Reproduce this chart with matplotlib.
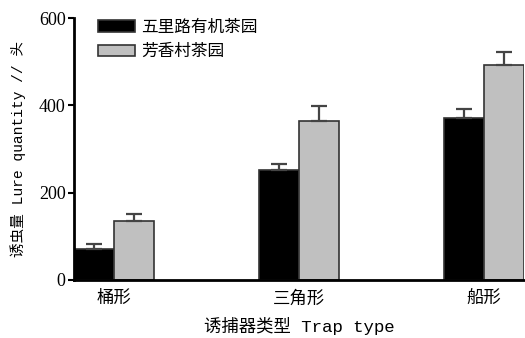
import matplotlib
matplotlib.use("Agg")
import matplotlib.pyplot as plt
import numpy as np

plt.rcParams['font.family'] = ['Liberation Serif', 'Noto Sans CJK SC']
label_font = ['Liberation Mono', 'Noto Sans CJK SC']

traps = ['桶形', '三角形', '船形']
series = ['五里路有机茶园', '芳香村茶园']
wulilu = [71, 252, 371]
wulilu_err = [11, 14, 21]
fangxiang = [135, 364, 492]
fangxiang_err = [16, 34, 30]

fig = plt.figure(figsize=(5.25, 3.38), dpi=100)
ax = fig.add_axes([0.141, 0.1716, 0.857, 0.775])

x = np.arange(len(traps))
w = 0.216
ekw = dict(ecolor='#444444', elinewidth=1.6, capsize=6, capthick=1.6)
ax.bar(x - w / 2, wulilu, w, color='black', edgecolor='#333333', linewidth=1.2,
       yerr=[np.zeros(3), wulilu_err], error_kw=ekw, label=series[0])
ax.bar(x + w / 2, fangxiang, w, color='#c0c0c0', edgecolor='#333333', linewidth=1.2,
       yerr=[np.zeros(3), fangxiang_err], error_kw=ekw, label=series[1])

ax.set_xlim(-w, 2 + w)
ax.set_ylim(0, 600)
ax.set_yticks([0, 200, 400, 600])
ax.set_xticks(x)
ax.set_xticklabels(traps, fontsize=12.5)
ax.tick_params(axis='x', length=0, pad=8)
ax.tick_params(axis='y', length=4, width=1.5, labelsize=13, pad=2)
for s in ['top', 'right']:
    ax.spines[s].set_visible(False)
for s in ['left', 'bottom']:
    ax.spines[s].set_linewidth(2)

ax.set_ylabel('诱虫量 Lure quantity // 头', fontsize=10.5, family=label_font,
              labelpad=9)
ax.set_xlabel('诱捕器类型 Trap type', fontsize=12.5, family=label_font,
              labelpad=7)
ax.legend(loc='upper left', bbox_to_anchor=(0.02, 1.05), frameon=False,
          fontsize=12, handlelength=2.2, handleheight=0.7, labelspacing=0.5,
          handletextpad=0.4)

fig.savefig('out.png', dpi=100)
